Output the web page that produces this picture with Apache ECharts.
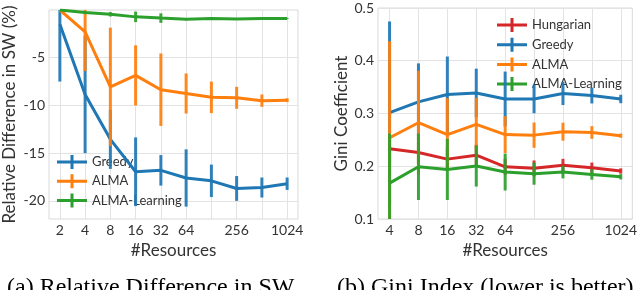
<!DOCTYPE html>
<html><head><meta charset="utf-8">
<script src="https://cdn.jsdelivr.net/npm/echarts@6/dist/echarts.min.js"></script>
<style>html,body{margin:0;padding:0;background:#fff}#c{width:640px;height:290px}</style>
</head><body><div id="c"></div>
<script>
// ---- data (a): relative difference in SW (%) ----
const swResources = [2, 4, 8, 16, 32, 64, 128, 256, 512, 1024];
const swGreedy    = [-1.5, -8.85, -13.55, -16.95, -16.8, -17.6, -17.9, -18.7, -18.6, -18.2];
const swGreedyErr = [6.0, 6.15, 3.1, 3.6, 1.6, 3.0, 1.7, 1.3, 1.05, 0.65];
const swAlma      = [0, -2.3, -8.05, -6.85, -8.35, -8.75, -9.15, -9.2, -9.5, -9.45];
const swAlmaErr   = [0, 4.1, 6.2, 3.15, 3.8, 2.1, 1.65, 1.15, 0.65, 0.2];
const swLearn     = [0, -0.25, -0.45, -0.72, -0.85, -0.97, -0.9, -0.93, -0.9, -0.9];
const swLearnErr  = [0, 0.1, 0.23, 0.55, 0.5, 0.1, 0.05, 0.05, 0.05, 0.05];
const swXTickLabels = [2, 4, 8, 16, 32, 64, 256, 1024];
const swYTicks = [-20, -15, -10, -5];

// ---- data (b): Gini index ----
const giniResources = [4, 8, 16, 32, 64, 128, 256, 512, 1024];
const giniHung      = [0.233, 0.226, 0.2135, 0.221, 0.199, 0.196, 0.202, 0.197, 0.191];
const giniHungErr   = [0.025, 0.02, 0.02, 0.02, 0.015, 0.015, 0.012, 0.01, 0.005];
const giniGreedy    = [0.3015, 0.322, 0.336, 0.339, 0.3275, 0.3275, 0.338, 0.334, 0.3275];
const giniGreedyErr = [0.173, 0.073, 0.072, 0.046, 0.052, 0.027, 0.022, 0.015, 0.008];
const giniAlma      = [0.254, 0.2825, 0.26, 0.2795, 0.26, 0.259, 0.2655, 0.264, 0.258];
const giniAlmaErr   = [0.183, 0.0985, 0.069, 0.05, 0.035, 0.024, 0.017, 0.012, 0.004];
const giniLearn     = [0.168, 0.199, 0.194, 0.2005, 0.189, 0.186, 0.189, 0.1845, 0.18];
const giniLearnErr  = [0.094, 0.063, 0.058, 0.039, 0.035, 0.021, 0.012, 0.01, 0.005];
const giniXTickLabels = [4, 8, 16, 32, 64, 256, 1024];

const C = {Hungarian:'#d62728', Greedy:'#1f77b4', ALMA:'#ff7f0e', 'ALMA-Learning':'#2ca02c'};
const FONT = 'Lato';
const TXT = '#333';
const crossIcon = 'path://M0,5.5h30v3h-30z M13.5,0h3v14h-3z';

function lineSeries(name, xs, ys, gi, k) {
  return {
    type: 'line', name, xAxisIndex: gi, yAxisIndex: gi,
    data: xs.map((n, i) => [Math.log2(n), ys[i]]),
    showSymbol: false, symbol: 'none', clip: true, animation: false,
    lineStyle: {width: 3, color: C[name]}, itemStyle: {color: C[name]},
    z: 10 + 2 * k
  };
}
function errSeries(name, xs, ys, es, gi, k) {
  const color = C[name];
  return {
    type: 'custom', name, xAxisIndex: gi, yAxisIndex: gi, clip: true, animation: false,
    itemStyle: {color},
    data: xs.map((n, i) => [Math.log2(n), ys[i], es[i]]),
    renderItem: (params, api) => {
      const x = api.value(0), y = api.value(1), e = api.value(2);
      if (!e) return {type: 'group', children: []};
      const p1 = api.coord([x, y - e]), p2 = api.coord([x, y + e]);
      return {type: 'line', shape: {x1: p1[0], y1: p1[1], x2: p2[0], y2: p2[1]},
              style: {stroke: color, lineWidth: 3, opacity: 0.92}};
    },
    z: 11 + 2 * k
  };
}

const pow2 = v => String(Math.round(Math.pow(2, v)));
const gridLine = {show: true, lineStyle: {color: '#e3e3e3', width: 1}};
const labelStyle = {fontFamily: FONT, fontSize: 14, color: TXT};
const nameStyle = {fontFamily: FONT, fontSize: 17, color: TXT};

const option = {
  animation: false,
  backgroundColor: '#fff',
  grid: [
    {left: 47, top: 10, width: 251, height: 209, show: true, borderColor: '#d9d9d9', borderWidth: 1, backgroundColor: 'transparent'},
    {left: 378, top: 8, width: 255, height: 211, show: true, borderColor: '#d9d9d9', borderWidth: 1, backgroundColor: 'transparent'}
  ],
  xAxis: [
    {type: 'value', gridIndex: 0, min: 0.57, max: 10.43,
     name: '#Resources', nameLocation: 'middle', nameGap: 21, nameTextStyle: nameStyle,
     axisLine: {show: false},
     axisTick: {show: false, customValues: swResources.map(Math.log2)},
     axisLabel: Object.assign({customValues: swXTickLabels.map(Math.log2), formatter: pow2, margin: 4}, labelStyle),
     splitLine: gridLine},
    {type: 'value', gridIndex: 1, min: 1.6, max: 10.4,
     name: '#Resources', nameLocation: 'middle', nameGap: 21, nameTextStyle: nameStyle,
     axisLine: {show: false},
     axisTick: {show: false, customValues: giniResources.map(Math.log2)},
     axisLabel: Object.assign({customValues: giniXTickLabels.map(Math.log2), formatter: pow2, margin: 4}, labelStyle),
     splitLine: gridLine}
  ],
  yAxis: [
    {type: 'value', gridIndex: 0, min: -21.9, max: 0,
     name: 'Relative Difference in SW (%)', nameLocation: 'middle', nameGap: 31, nameTextStyle: nameStyle,
     axisLine: {show: false},
     axisTick: {show: false, customValues: swYTicks},
     axisLabel: Object.assign({customValues: swYTicks, margin: 4}, labelStyle),
     splitLine: gridLine},
    {type: 'value', gridIndex: 1, min: 0.1, max: 0.5, interval: 0.1,
     name: 'Gini Coefficient', nameLocation: 'middle', nameGap: 28, nameTextStyle: nameStyle,
     axisLine: {show: false}, axisTick: {show: false},
     axisLabel: Object.assign({formatter: v => v.toFixed(1), margin: 4}, labelStyle),
     splitLine: gridLine}
  ],
  legend: [
    {left: 57, top: 155, orient: 'vertical', padding: 0, itemWidth: 30, itemHeight: 14, itemGap: 5.3,
     textStyle: {fontFamily: FONT, fontSize: 13, color: TXT}, selectedMode: false,
     data: ['Greedy', 'ALMA', 'ALMA-Learning'].map(n => ({name: n, icon: crossIcon, itemStyle: {color: C[n]}}))},
    {left: 497, top: 18, orient: 'vertical', padding: 0, itemWidth: 30, itemHeight: 14, itemGap: 5.7,
     textStyle: {fontFamily: FONT, fontSize: 13, color: TXT}, selectedMode: false,
     data: ['Hungarian', 'Greedy', 'ALMA', 'ALMA-Learning'].map(n => ({name: n, icon: crossIcon, itemStyle: {color: C[n]}}))}
  ],
  series: [
    lineSeries('Greedy', swResources, swGreedy, 0, 0),
    errSeries('Greedy', swResources, swGreedy, swGreedyErr, 0, 0),
    lineSeries('ALMA', swResources, swAlma, 0, 1),
    errSeries('ALMA', swResources, swAlma, swAlmaErr, 0, 1),
    lineSeries('ALMA-Learning', swResources, swLearn, 0, 2),
    errSeries('ALMA-Learning', swResources, swLearn, swLearnErr, 0, 2),
    lineSeries('Hungarian', giniResources, giniHung, 1, 0),
    errSeries('Hungarian', giniResources, giniHung, giniHungErr, 1, 0),
    lineSeries('Greedy', giniResources, giniGreedy, 1, 1),
    errSeries('Greedy', giniResources, giniGreedy, giniGreedyErr, 1, 1),
    lineSeries('ALMA', giniResources, giniAlma, 1, 2),
    errSeries('ALMA', giniResources, giniAlma, giniAlmaErr, 1, 2),
    lineSeries('ALMA-Learning', giniResources, giniLearn, 1, 3),
    errSeries('ALMA-Learning', giniResources, giniLearn, giniLearnErr, 1, 3)
  ],
  graphic: [
    {type: 'text', left: 7, top: 276, style: {text: '(a) Relative Difference in SW', font: '24px "Liberation Serif"', fill: '#000'}},
    {type: 'text', left: 337, top: 276, style: {text: '(b) Gini Index (lower is better)', font: '24px "Liberation Serif"', fill: '#000'}}
  ]
};
const chart = echarts.init(document.getElementById('c'), null, {renderer: 'canvas'});
chart.setOption(option);
</script></body></html>
